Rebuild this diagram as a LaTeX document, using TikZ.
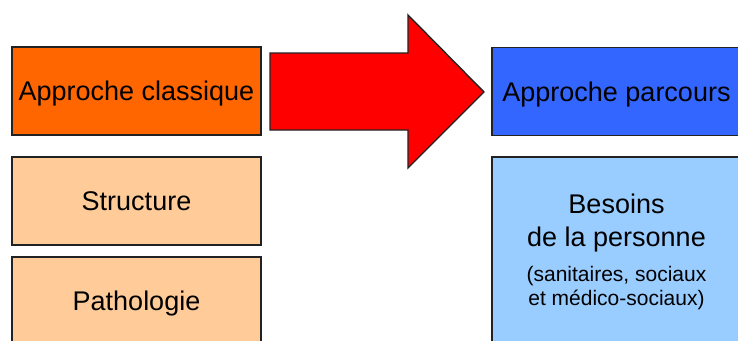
\documentclass[tikz,border=0pt]{standalone}
\usepackage{fontspec}
\setmainfont{Liberation Sans}
\definecolor{orangeA}{HTML}{FF6600}
\definecolor{orangeB}{HTML}{FFCC99}
\definecolor{blueA}{HTML}{3366FF}
\definecolor{blueB}{HTML}{99CCFF}
\definecolor{redA}{HTML}{FF0000}
\definecolor{edge}{HTML}{222222}
\newcommand{\smallsz}{\fontsize{21}{23}\selectfont}
\tikzset{
  box/.style={draw=edge, line width=1.4pt, minimum width=249pt, minimum height=88pt,
    inner sep=0pt, align=center, text=black, font=\fontsize{27}{33}\selectfont},
  oneline/.style={text height=19pt, text depth=0pt},
  bigarrow/.style={draw=edge, line width=1.4pt, fill=redA, line join=miter},
}
\begin{document}
\begin{tikzpicture}[x=1pt, y=-1pt]
\useasboundingbox (0,0) rectangle (738,340);
\clip (0,0) rectangle (738,340);
\fill[white] (0,0) rectangle (738,340);
\node[box, oneline, fill=orangeA] (classique) at (136.5,91) {Approche classique};
\node[box, oneline, fill=orangeB] (structure) at (136.5,201) {Structure};
\node[box, oneline, fill=orangeB] (patho) at (136.5,301) {Pathologie};
\node[box, oneline, fill=blueA] (parcours) at (616.5,91.5) {Approche parcours};
\node[box, fill=blueB, minimum height=190pt] (besoins) at (616.5,252)
  {Besoins\\ de la personne\\[2pt]
   \smallsz (sanitaires, sociaux\\[-9pt] \smallsz et médico-sociaux)};
\coordinate (a1) at (270,53);
\coordinate (a2) at (408,53);
\coordinate (a3) at (408,15);
\coordinate (tip) at (484,92);
\coordinate (a5) at (408,168);
\coordinate (a6) at (408,130);
\coordinate (a7) at (270,130);
\draw[bigarrow] (a1) -- (a2) -- (a3) -- (tip) -- (a5) -- (a6) -- (a7) -- cycle;
\end{tikzpicture}
\end{document}
